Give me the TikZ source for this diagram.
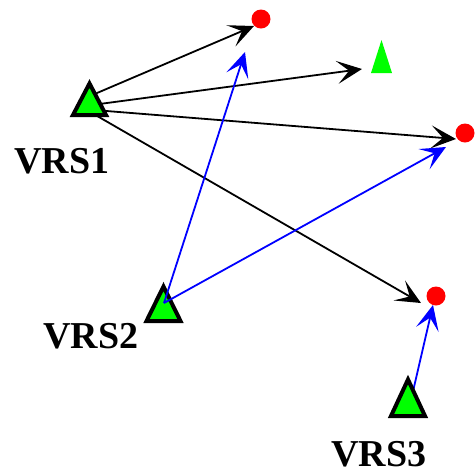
\documentclass[tikz,border=0pt]{standalone}
\usepackage{fontspec}
\setmainfont{Liberation Serif}
\usetikzlibrary{arrows.meta}
\definecolor{vgreen}{RGB}{0,255,0}
\definecolor{vred}{RGB}{255,0,0}
\definecolor{vblue}{RGB}{0,0,255}
\begin{document}
\begin{tikzpicture}[x=1pt,y=-1pt,
  tipstyle/.style={-{Stealth[length=25pt,width=23pt,inset=12pt]}},
  blackarrow/.style={tipstyle,draw=black,line width=1.8pt},
  bluearrow/.style={tipstyle,draw=vblue,line width=1.8pt},
  station/.style={draw=black,fill=vgreen,line width=4pt,line join=miter},
  dot/.style={circle,fill=vred,inner sep=0pt,minimum size=19pt},
  lbl/.style={font=\fontsize{38}{38}\selectfont\bfseries,anchor=base,inner sep=0pt}]
\useasboundingbox (0,0) rectangle (475,475);
% targets
\node[dot] (d1) at (261,19) {};
\node[dot] (d2) at (465,133) {};
\node[dot] (d3) at (436,296) {};
\fill[vgreen] (381.5,40) -- (392,73) -- (371,73) -- cycle;
\coordinate (g1) at (381,57);
% arrow tips
\coordinate (t1) at (254,26);
\coordinate (t2) at (362,69);
\coordinate (t3) at (456,139);
\coordinate (t4) at (421,303);
\coordinate (b1) at (245,52);
\coordinate (b2) at (446,147);
\coordinate (b3) at (433,305);
% starts
\coordinate (s1) at (90,96);
\coordinate (s2) at (92,105);
\coordinate (s3) at (94,110);
\coordinate (s4) at (92,113);
\coordinate (s5) at (164,303);
\coordinate (s6) at (411,400);
% black arrows from VRS1
\draw[blackarrow] (s1) -- (t1);
\draw[blackarrow] (s2) -- (t2);
\draw[blackarrow] (s3) -- (t3);
\draw[blackarrow] (s4) -- (t4);
% VRS1
\draw[station] (89.5,83.5) -- (106,115) -- (73,115) -- cycle;
\node[lbl] (l1) at (62,173) {VRS1};
% VRS2
\draw[station] (163.5,286.5) -- (180.5,321) -- (146.5,321) -- cycle;
\node[lbl] (l2) at (91,348) {VRS2};
\draw[bluearrow] (s5) -- (b1);
\draw[bluearrow] (s5) -- (b2);
% VRS3
\draw[bluearrow] (s6) -- (b3);
\draw[station] (408,379.5) -- (425,416) -- (391,416) -- cycle;
\node[lbl] (l3) at (379,466) {VRS3};
\end{tikzpicture}
\end{document}
